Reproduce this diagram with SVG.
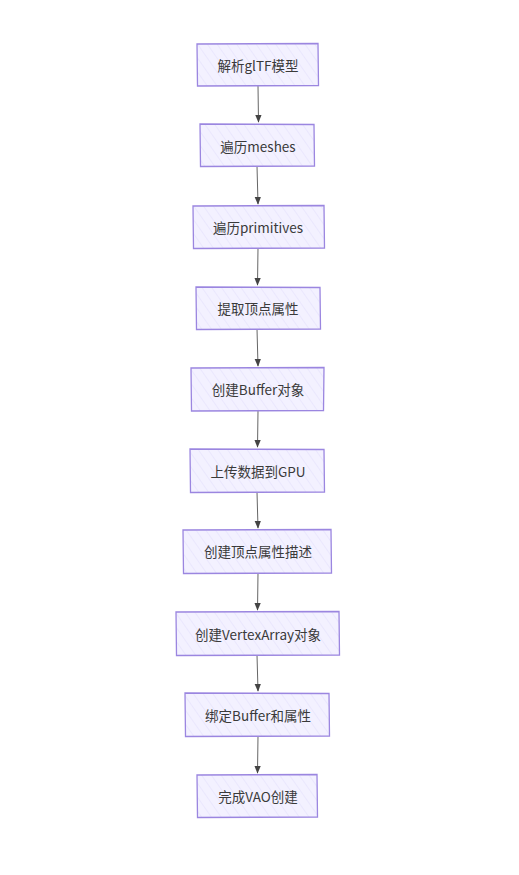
<svg xmlns="http://www.w3.org/2000/svg" width="519" height="875" viewBox="0 0 519 875">
<defs>
<pattern id="hatch" patternUnits="userSpaceOnUse" width="8" height="8" patternTransform="rotate(-35)">
<rect width="8" height="8" fill="#f3f1ff"/>
<line x1="0" y1="0" x2="0" y2="8" stroke="#e2ddfb" stroke-width="1"/>
</pattern>
<marker id="arrow" viewBox="0 0 10 10" refX="9" refY="5" markerWidth="8" markerHeight="8" orient="auto">
<path d="M0,1 L10,5 L0,9 Z" fill="#444"/>
</marker>
<style>
.box{fill:url(#hatch);stroke:#9b86e0;stroke-width:1.3}
.lbl{font-family:"Noto Sans CJK SC","Noto Sans",sans-serif;font-size:13.5px;fill:#3a3a3a;text-anchor:middle;dominant-baseline:central}
.edge{stroke:#666;stroke-width:1;fill:none;marker-end:url(#arrow)}
</style>
</defs>
<rect width="519" height="875" fill="#ffffff"/>
<g id="connectors">
<path class="edge" d="M258,86 L258.5,122"/>
<path class="edge" d="M257,166 L258,204"/>
<path class="edge" d="M258,248 L257.5,285"/>
<path class="edge" d="M257,329 L258,366"/>
<path class="edge" d="M258,411 L257.5,447"/>
<path class="edge" d="M257,492 L258,528"/>
<path class="edge" d="M258,573 L257.5,610"/>
<path class="edge" d="M257,655 L258,691"/>
<path class="edge" d="M258,736 L257.5,773"/>
</g>
<g id="n1"><path class="box" d="M197,44 L318,43.5 L318.5,85.5 L197.5,86 Z"/><text class="lbl" x="258" y="65">解析glTF模型</text></g>
<g id="n2"><path class="box" d="M200,124 L314,124.5 L314.5,166 L200.5,166.5 Z"/><text class="lbl" x="258" y="146">遍历meshes</text></g>
<g id="n3"><path class="box" d="M193,206 L324,205.5 L324.5,248 L193.5,248.5 Z"/><text class="lbl" x="258" y="227">遍历primitives</text></g>
<g id="n4"><path class="box" d="M196,287 L320,287.5 L320.5,329 L196.5,329.5 Z"/><text class="lbl" x="258" y="308">提取顶点属性</text></g>
<g id="n5"><path class="box" d="M191,368 L324,367.5 L323.5,410.5 L191.5,411 Z"/><text class="lbl" x="258" y="389">创建Buffer对象</text></g>
<g id="n6"><path class="box" d="M190,449 L324,449.5 L324.5,492 L190.5,492.5 Z"/><text class="lbl" x="258" y="471">上传数据到GPU</text></g>
<g id="n7"><path class="box" d="M183,530 L331,529.5 L331.5,573 L183.5,573.5 Z"/><text class="lbl" x="258" y="551">创建顶点属性描述</text></g>
<g id="n8"><path class="box" d="M176,612 L339,611.5 L339.5,655 L176.5,655.5 Z"/><text class="lbl" x="258" y="634">创建VertexArray对象</text></g>
<g id="n9"><path class="box" d="M185,693 L329,693.5 L329.5,736 L185.5,736.5 Z"/><text class="lbl" x="258" y="715">绑定Buffer和属性</text></g>
<g id="n10"><path class="box" d="M197,775 L317,774.5 L317.5,817 L197.5,817.5 Z"/><text class="lbl" x="258" y="796">完成VAO创建</text></g>
</svg>
